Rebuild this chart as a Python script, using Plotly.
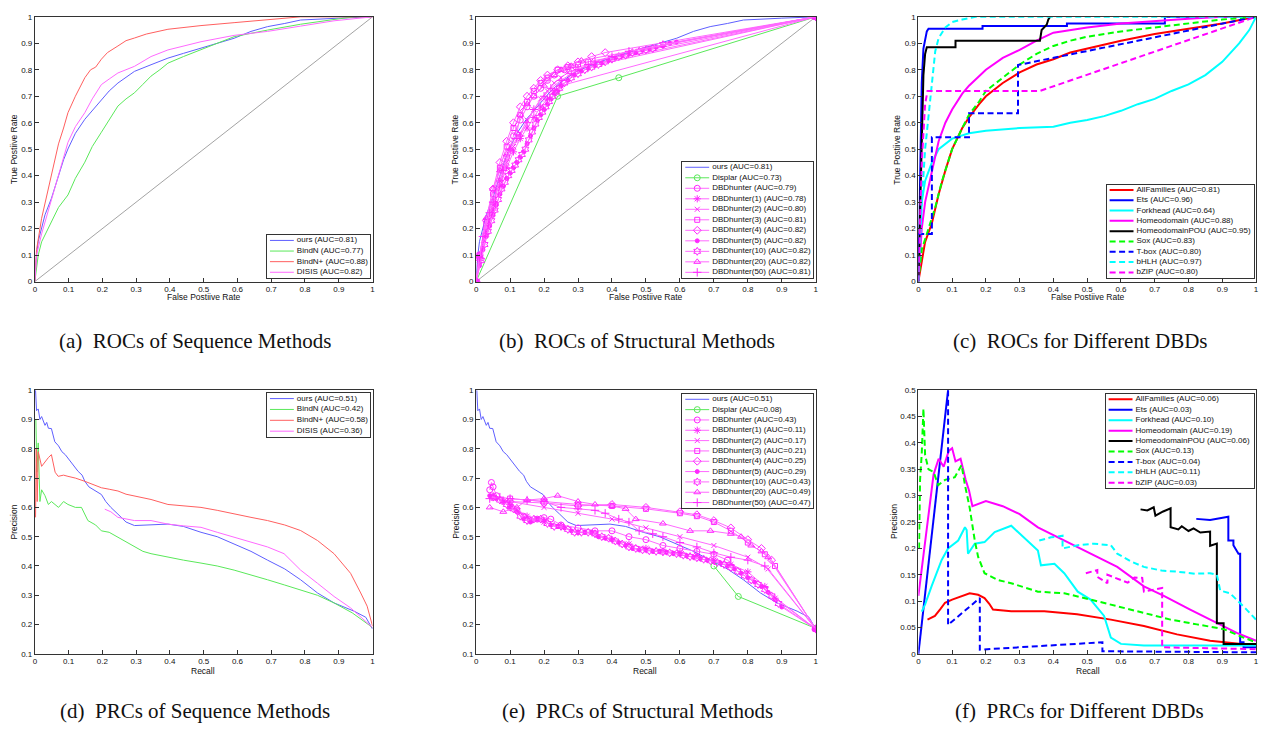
import plotly.graph_objects as go

W, H = 1266, 731

# ====================== DATA ======================
DIAG = [(0, 0), (1, 1)]

# (a) ROC - sequence methods
A_OURS = [(0,0),(0.005,0.1),(0.01,0.152),(0.02,0.2),(0.03,0.252),(0.049,0.314),(0.06,0.36),(0.069,0.40),(0.085,0.46),(0.098,0.501),(0.12,0.56),(0.148,0.613),(0.17,0.645),(0.197,0.688),(0.22,0.72),(0.246,0.75),(0.27,0.77),(0.295,0.794),(0.344,0.819),(0.394,0.844),(0.44,0.862),(0.492,0.882),(0.54,0.9),(0.59,0.919),(0.64,0.945),(0.689,0.963),(0.74,0.975),(0.787,0.988),(0.9,0.995),(1,1)]
A_BINDN = [(0,0),(0.01,0.1),(0.02,0.15),(0.049,0.227),(0.07,0.28),(0.098,0.327),(0.12,0.39),(0.148,0.451),(0.17,0.51),(0.197,0.564),(0.22,0.61),(0.246,0.663),(0.27,0.69),(0.295,0.713),(0.32,0.745),(0.344,0.776),(0.37,0.8),(0.394,0.825),(0.44,0.85),(0.492,0.875),(0.54,0.9),(0.59,0.925),(0.689,0.95),(0.787,0.972),(0.886,0.99),(0.945,1.0),(1,1)]
A_BINDNP = [(0,0),(0.005,0.12),(0.02,0.239),(0.035,0.32),(0.049,0.40),(0.07,0.52),(0.085,0.58),(0.098,0.638),(0.12,0.7),(0.148,0.77),(0.165,0.8),(0.18,0.81),(0.197,0.84),(0.215,0.865),(0.246,0.89),(0.27,0.91),(0.295,0.92),(0.33,0.935),(0.394,0.953),(0.44,0.96),(0.492,0.967),(0.59,0.978),(0.689,0.99),(0.787,1.0),(0.935,1.0),(1,1)]
A_DISIS = [(0,0),(0.005,0.1),(0.02,0.18),(0.049,0.31),(0.07,0.4),(0.098,0.526),(0.12,0.585),(0.148,0.638),(0.17,0.69),(0.197,0.744),(0.22,0.765),(0.246,0.788),(0.295,0.813),(0.344,0.85),(0.394,0.875),(0.44,0.89),(0.492,0.906),(0.59,0.93),(0.689,0.945),(0.787,0.965),(0.886,0.985),(1,1)]

# (b) ROC - structural methods
B_DISPLAR = [(0,0),(0.24,0.70),(0.42,0.77),(1,1)]
B_DBD = [(0,0),(0.01,0.09),(0.03,0.2),(0.05,0.3),(0.07,0.4),(0.09,0.47),(0.11,0.55),(0.13,0.61),(0.15,0.66),(0.17,0.7),(0.19,0.73),(0.21,0.76),(0.23,0.78),(0.26,0.8),(1,1)]
B_DBD1 = [(0,0),(0.01,0.08),(0.03,0.18),(0.05,0.27),(0.07,0.36),(0.09,0.43),(0.11,0.49),(0.13,0.54),(0.15,0.58),(0.17,0.62),(0.19,0.66),(0.21,0.69),(0.23,0.72),(0.25,0.74),(1,1)]
B_DBD2 = [(0,0),(0.01,0.08),(0.03,0.19),(0.05,0.29),(0.07,0.38),(0.09,0.45),(0.11,0.51),(0.13,0.56),(0.15,0.61),(0.17,0.65),(0.19,0.69),(0.21,0.72),(0.23,0.75),(0.25,0.77),(0.27,0.79),(0.29,0.80),(1,1)]
B_DBD3 = [(0,0),(0.01,0.1),(0.03,0.22),(0.05,0.33),(0.07,0.43),(0.09,0.51),(0.11,0.58),(0.13,0.63),(0.15,0.68),(0.17,0.72),(0.19,0.75),(0.21,0.77),(0.24,0.8),(0.27,0.81),(0.3,0.82),(0.33,0.83),(1,1)]
B_DBD4 = [(0,0),(0.01,0.1),(0.03,0.23),(0.05,0.35),(0.07,0.45),(0.09,0.53),(0.11,0.6),(0.13,0.66),(0.15,0.7),(0.17,0.73),(0.19,0.76),(0.21,0.78),(0.24,0.8),(0.27,0.815),(0.3,0.83),(0.34,0.85),(0.38,0.865),(1,1)]
B_DBD5 = [(0,0),(0.01,0.06),(0.02,0.12),(0.03,0.17),(0.04,0.21),(0.05,0.25),(0.06,0.29),(0.07,0.33),(0.08,0.36),(0.09,0.39),(0.1,0.41),(0.11,0.43),(0.12,0.45),(0.13,0.47),(0.14,0.49),(0.15,0.52),(0.16,0.55),(0.17,0.58),(0.18,0.61),(0.19,0.63),(0.2,0.65),(0.21,0.67),(0.22,0.69),(0.23,0.71),(0.24,0.72),(0.25,0.74),(0.27,0.76),(0.29,0.78),(0.31,0.795),(0.33,0.805),(0.35,0.815),(0.37,0.825),(0.39,0.835),(0.41,0.845),(0.43,0.855),(0.45,0.86),(0.47,0.865),(0.49,0.875),(0.51,0.88),(0.53,0.885),(0.55,0.89),(0.57,0.9),(0.59,0.905),(1,1)]
B_DBD10 = [(0,0),(0.015,0.08),(0.025,0.14),(0.035,0.19),(0.045,0.23),(0.055,0.27),(0.065,0.31),(0.075,0.35),(0.085,0.375),(0.095,0.4),(0.105,0.42),(0.115,0.44),(0.125,0.46),(0.135,0.48),(0.145,0.5),(0.155,0.535),(0.165,0.565),(0.175,0.595),(0.185,0.62),(0.195,0.64),(0.205,0.66),(0.215,0.68),(0.225,0.7),(0.235,0.715),(0.245,0.73),(0.26,0.75),(0.28,0.77),(0.3,0.785),(0.32,0.8),(0.34,0.81),(0.36,0.82),(0.38,0.83),(0.4,0.84),(0.42,0.85),(0.44,0.855),(0.46,0.865),(0.48,0.87),(0.5,0.875),(0.52,0.88),(0.55,0.895),(1,1)]
B_DBD20 = [(0,0),(0.01,0.1),(0.03,0.24),(0.05,0.35),(0.07,0.42),(0.09,0.48),(0.1,0.5),(0.12,0.56),(0.13,0.63),(0.15,0.67),(0.17,0.7),(0.2,0.74),(0.23,0.78),(0.25,0.8),(0.28,0.815),(0.31,0.835),(1,1)]
B_DBD50 = [(0,0),(0.01,0.09),(0.02,0.17),(0.04,0.26),(0.05,0.3),(0.07,0.38),(0.08,0.42),(0.1,0.5),(0.12,0.54),(0.13,0.55),(0.15,0.6),(0.17,0.65),(0.2,0.7),(0.22,0.73),(0.25,0.76),(0.28,0.785),(0.3,0.8),(0.33,0.82),(0.35,0.83),(0.4,0.85),(0.45,0.87),(1,1)]

# (c) ROC - different DBDs
C_ALL = [(0,0),(0.01,0.08),(0.02,0.15),(0.04,0.22),(0.06,0.33),(0.08,0.42),(0.1,0.5),(0.13,0.58),(0.15,0.62),(0.18,0.67),(0.2,0.7),(0.25,0.75),(0.3,0.79),(0.35,0.82),(0.4,0.84),(0.45,0.865),(0.5,0.88),(0.6,0.91),(0.7,0.935),(0.8,0.955),(0.9,0.975),(1,1)]
C_ETS = [(0,0),(0.005,0.4),(0.01,0.75),(0.015,0.88),(0.02,0.92),(0.025,0.945),(0.03,0.955),(0.19,0.955),(0.19,0.965),(0.44,0.965),(0.44,0.975),(0.73,0.975),(0.73,1),(1,1)]
C_FORK = [(0,0),(0.01,0.3),(0.02,0.38),(0.04,0.45),(0.06,0.5),(0.1,0.54),(0.15,0.56),(0.2,0.57),(0.3,0.58),(0.4,0.585),(0.45,0.6),(0.5,0.61),(0.55,0.625),(0.6,0.645),(0.65,0.67),(0.7,0.69),(0.75,0.72),(0.8,0.745),(0.85,0.78),(0.9,0.83),(0.95,0.9),(0.98,0.95),(1,1)]
C_HOMEO = [(0,0),(0.01,0.2),(0.02,0.3),(0.04,0.42),(0.06,0.53),(0.08,0.6),(0.1,0.65),(0.13,0.71),(0.15,0.74),(0.2,0.8),(0.25,0.845),(0.3,0.875),(0.35,0.91),(0.4,0.94),(0.5,0.96),(0.6,0.975),(0.7,0.985),(0.8,0.993),(0.9,1),(1,1)]
C_POU = [(0,0),(0.005,0.3),(0.01,0.6),(0.015,0.78),(0.02,0.86),(0.025,0.885),(0.11,0.885),(0.11,0.91),(0.36,0.91),(0.365,0.95),(0.38,0.97),(0.385,0.99),(0.39,1)]
C_SOX = [(0,0),(0.01,0.12),(0.03,0.2),(0.05,0.28),(0.07,0.38),(0.1,0.5),(0.13,0.58),(0.15,0.63),(0.18,0.68),(0.2,0.72),(0.25,0.77),(0.3,0.82),(0.35,0.86),(0.4,0.89),(0.45,0.91),(0.5,0.925),(0.6,0.945),(0.7,0.96),(0.8,0.975),(0.9,0.99),(1,1)]
C_TBOX = [(0,0),(0,0.18),(0.04,0.18),(0.04,0.545),(0.15,0.545),(0.15,0.636),(0.295,0.636),(0.295,0.818),(1,1)]
C_BHLH = [(0,0),(0.01,0.3),(0.02,0.5),(0.03,0.62),(0.04,0.75),(0.05,0.87),(0.06,0.92),(0.08,0.96),(0.1,0.98),(0.13,0.99),(0.17,1),(1,1)]
C_BZIP = [(0,0),(0.01,0.45),(0.02,0.67),(0.027,0.72),(0.36,0.72),(1,1)]

# (d) PRC - sequence methods
D_OURS = [(0.002,1.0),(0.005,0.93),(0.01,0.936),(0.015,0.9),(0.02,0.91),(0.03,0.88),(0.035,0.89),(0.04,0.87),(0.049,0.869),(0.055,0.84),(0.059,0.824),(0.07,0.81),(0.08,0.79),(0.09,0.78),(0.098,0.768),(0.11,0.75),(0.128,0.723),(0.14,0.71),(0.148,0.689),(0.16,0.67),(0.175,0.66),(0.197,0.644),(0.21,0.62),(0.225,0.6),(0.246,0.577),(0.27,0.55),(0.295,0.538),(0.34,0.54),(0.394,0.543),(0.44,0.535),(0.492,0.515),(0.54,0.5),(0.59,0.476),(0.64,0.45),(0.689,0.42),(0.74,0.39),(0.787,0.353),(0.837,0.308),(0.886,0.274),(0.945,0.246),(0.98,0.225),(1.0,0.185)]
D_BINDN = [(0.003,0.9),(0.006,0.72),(0.01,0.82),(0.015,0.62),(0.02,0.66),(0.03,0.64),(0.04,0.61),(0.049,0.62),(0.07,0.6),(0.085,0.62),(0.098,0.61),(0.12,0.6),(0.138,0.6),(0.157,0.555),(0.18,0.54),(0.197,0.52),(0.22,0.515),(0.246,0.498),(0.27,0.48),(0.295,0.465),(0.32,0.45),(0.344,0.442),(0.394,0.43),(0.44,0.42),(0.492,0.41),(0.54,0.4),(0.59,0.386),(0.64,0.37),(0.689,0.353),(0.74,0.335),(0.787,0.319),(0.837,0.3),(0.886,0.274),(0.94,0.24),(1.0,0.19)]
D_BINDNP = [(0.002,0.566),(0.004,0.8),(0.007,0.62),(0.01,0.79),(0.02,0.74),(0.03,0.756),(0.04,0.77),(0.049,0.78),(0.06,0.72),(0.069,0.706),(0.085,0.71),(0.098,0.706),(0.12,0.7),(0.148,0.689),(0.17,0.68),(0.197,0.667),(0.22,0.662),(0.246,0.656),(0.27,0.645),(0.295,0.639),(0.344,0.627),(0.394,0.61),(0.44,0.605),(0.492,0.6),(0.54,0.59),(0.59,0.577),(0.64,0.566),(0.689,0.555),(0.74,0.54),(0.787,0.521),(0.837,0.487),(0.886,0.442),(0.935,0.375),(0.965,0.308),(0.984,0.263),(1.0,0.195)]
D_DISIS = [(0.207,0.594),(0.225,0.585),(0.246,0.566),(0.27,0.56),(0.295,0.555),(0.344,0.555),(0.394,0.543),(0.44,0.537),(0.492,0.532),(0.54,0.515),(0.59,0.498),(0.64,0.482),(0.689,0.465),(0.738,0.442),(0.787,0.386),(0.837,0.341),(0.886,0.296),(0.935,0.257),(1.0,0.19)]

# (e) PRC - structural methods
E_DISPLAR = [(0.70,0.40),(0.772,0.296),(1.0,0.187)]
E_DBD = [(0.04,0.66),(0.045,0.685),(0.05,0.67),(0.06,0.64),(0.08,0.62),(0.1,0.6),(0.12,0.59),(0.14,0.57),(0.16,0.555),(0.18,0.56),(0.2,0.565),(0.22,0.56),(0.25,0.54),(0.3,0.53),(0.35,0.52),(0.4,0.52),(0.45,0.5),(0.5,0.49),(0.55,0.47),(0.6,0.46),(0.65,0.45),(0.7,0.44),(0.74,0.42),(1.0,0.185)]
E_DBD1 = [(0.05,0.64),(0.1,0.61),(0.15,0.57),(0.2,0.55),(0.25,0.535),(0.3,0.515),(0.35,0.51),(0.4,0.49),(0.45,0.475),(0.5,0.46),(0.55,0.45),(0.6,0.445),(0.65,0.435),(0.7,0.42),(0.75,0.405),(0.8,0.38),(0.85,0.33),(0.88,0.29),(1.0,0.185)]
E_DBD2 = [(0.05,0.63),(0.1,0.62),(0.2,0.6),(0.3,0.58),(0.4,0.56),(0.5,0.53),(0.6,0.5),(0.7,0.47),(0.8,0.43),(0.86,0.39),(1.0,0.185)]
E_DBD3 = [(0.1,0.63),(0.2,0.62),(0.3,0.61),(0.4,0.605),(0.5,0.595),(0.6,0.58),(0.65,0.57),(0.7,0.55),(0.75,0.52),(0.8,0.48),(0.85,0.44),(0.88,0.4),(1.0,0.185)]
E_DBD4 = [(0.1,0.62),(0.2,0.615),(0.3,0.605),(0.4,0.61),(0.5,0.6),(0.6,0.585),(0.65,0.575),(0.7,0.555),(0.75,0.53),(0.8,0.49),(0.84,0.46),(0.87,0.42),(1.0,0.185)]
E_DBD5 = [(0.04,0.64),(0.06,0.63),(0.08,0.62),(0.1,0.6),(0.12,0.585),(0.14,0.56),(0.16,0.55),(0.18,0.56),(0.2,0.555),(0.22,0.54),(0.24,0.535),(0.26,0.53),(0.28,0.52),(0.3,0.515),(0.32,0.515),(0.34,0.515),(0.36,0.5),(0.38,0.495),(0.4,0.49),(0.42,0.48),(0.44,0.47),(0.46,0.46),(0.48,0.455),(0.5,0.455),(0.52,0.45),(0.54,0.45),(0.56,0.447),(0.58,0.443),(0.6,0.44),(0.62,0.435),(0.64,0.43),(0.66,0.425),(0.68,0.42),(0.7,0.415),(0.72,0.41),(0.74,0.4),(0.76,0.39),(0.78,0.375),(0.8,0.36),(0.82,0.345),(0.84,0.33),(0.86,0.31),(0.88,0.285),(0.9,0.26),(1.0,0.185)]
E_DBD10 = [(0.05,0.635),(0.07,0.625),(0.09,0.61),(0.11,0.595),(0.13,0.57),(0.15,0.555),(0.17,0.56),(0.19,0.56),(0.21,0.545),(0.23,0.535),(0.25,0.535),(0.27,0.525),(0.29,0.515),(0.31,0.515),(0.33,0.515),(0.35,0.51),(0.37,0.5),(0.39,0.495),(0.41,0.485),(0.43,0.475),(0.45,0.465),(0.47,0.46),(0.49,0.455),(0.51,0.452),(0.53,0.45),(0.55,0.448),(0.57,0.445),(0.59,0.442),(0.61,0.437),(0.63,0.432),(0.65,0.428),(0.67,0.423),(0.69,0.418),(0.71,0.412),(0.73,0.405),(0.75,0.395),(0.77,0.382),(0.79,0.368),(0.81,0.352),(0.83,0.337),(0.85,0.32),(0.87,0.298),(0.89,0.272),(1.0,0.185)]
E_DBD20 = [(0.04,0.6),(0.08,0.585),(0.12,0.6),(0.15,0.625),(0.2,0.63),(0.24,0.64),(0.3,0.62),(0.35,0.61),(0.4,0.605),(0.44,0.595),(0.47,0.56),(0.55,0.545),(0.63,0.52),(0.69,0.52),(0.75,0.51),(0.78,0.5),(0.81,0.47),(0.84,0.45),(0.86,0.43),(1.0,0.185)]
E_DBD50 = [(0.04,0.63),(0.07,0.635),(0.1,0.63),(0.15,0.625),(0.2,0.62),(0.25,0.6),(0.3,0.595),(0.35,0.59),(0.38,0.58),(0.42,0.56),(0.45,0.55),(0.48,0.52),(0.52,0.51),(0.55,0.5),(0.6,0.48),(0.65,0.465),(0.7,0.445),(0.75,0.43),(0.8,0.42),(0.85,0.4),(1.0,0.185)]

# (f) PRC - different DBDs
F_ALL = [(0.027,0.065),(0.035,0.068),(0.049,0.072),(0.065,0.085),(0.079,0.097),(0.1,0.103),(0.128,0.109),(0.152,0.115),(0.177,0.112),(0.196,0.106),(0.21,0.095),(0.221,0.084),(0.275,0.081),(0.373,0.081),(0.47,0.075),(0.57,0.065),(0.668,0.053),(0.766,0.037),(0.864,0.025),(1.0,0.016)]
F_ETS = [(0,0),(0.088,0.5),(None,None),(0.823,0.256),(0.864,0.254),(0.918,0.26),(0.918,0.215),(0.933,0.215),(0.933,0.206),(0.948,0.19),(0.953,0.19),(0.953,0.022),(0.963,0.022),(0.963,0.0125),(1.0,0.0125)]
F_FORK = [(0.01,0.08),(0.02,0.094),(0.039,0.128),(0.069,0.178),(0.088,0.2),(0.118,0.215),(0.138,0.24),(0.143,0.235),(0.147,0.19),(0.167,0.209),(0.196,0.212),(0.226,0.231),(0.275,0.243),(0.295,0.231),(0.324,0.215),(0.354,0.196),(0.363,0.168),(0.403,0.171),(0.432,0.153),(0.472,0.118),(0.51,0.103),(0.55,0.072),(0.57,0.031),(0.6,0.019),(0.668,0.016),(1.0,0.016)]
F_HOMEO = [(0,0.11),(0.015,0.19),(0.03,0.27),(0.045,0.34),(0.06,0.37),(0.075,0.355),(0.09,0.385),(0.1,0.39),(0.11,0.365),(0.125,0.37),(0.14,0.33),(0.15,0.31),(0.16,0.28),(0.2,0.29),(0.25,0.28),(0.3,0.265),(0.354,0.24),(0.432,0.215),(0.51,0.19),(0.589,0.165),(0.668,0.128),(0.727,0.11),(0.805,0.084),(0.864,0.065),(0.943,0.04),(1.0,0.025)]
F_POU = [(0.658,0.274),(0.678,0.272),(0.697,0.278),(0.702,0.262),(0.725,0.27),(0.747,0.276),(0.747,0.24),(0.77,0.236),(0.78,0.242),(0.8,0.233),(0.815,0.238),(0.835,0.23),(0.864,0.232),(0.864,0.205),(0.884,0.209),(0.884,0.058),(0.904,0.058),(0.904,0.019),(1.0,0.019)]
F_SOX = [(0.002,0.2),(0.005,0.33),(0.01,0.38),(0.015,0.465),(0.02,0.377),(0.03,0.35),(0.045,0.345),(0.059,0.32),(0.079,0.33),(0.108,0.335),(0.128,0.358),(0.138,0.32),(0.152,0.277),(0.167,0.215),(0.177,0.184),(0.196,0.153),(0.236,0.14),(0.275,0.134),(0.354,0.118),(0.432,0.115),(0.51,0.103),(0.589,0.09),(0.668,0.078),(0.747,0.065),(0.825,0.056),(0.904,0.047),(0.963,0.031),(1.0,0.022)]
F_TBOX = [(0.088,0.5),(0.088,0.055),(0.182,0.106),(0.182,0.008),(0.545,0.022),(0.545,0.005),(1.0,0.003)]
F_BHLH = [(0.358,0.215),(0.393,0.221),(0.427,0.224),(0.427,0.2),(0.472,0.206),(0.52,0.209),(0.57,0.206),(0.589,0.19),(0.63,0.175),(0.668,0.165),(0.72,0.158),(0.766,0.156),(0.82,0.152),(0.864,0.153),(0.884,0.15),(0.894,0.12),(0.923,0.115),(0.943,0.103),(0.972,0.084),(1.0,0.065)]
F_BZIP = [(0.496,0.153),(0.53,0.159),(0.53,0.146),(0.56,0.134),(0.56,0.15),(0.6,0.14),(0.62,0.135),(0.64,0.145),(0.663,0.144),(0.668,0.118),(0.722,0.125),(0.722,0.0125),(1.0,0.009)]

SEQ_LABELS_ROC = ["ours (AUC=0.81)", "BindN (AUC=0.77)", "BindN+ (AUC=0.88)", "DISIS (AUC=0.82)"]
SEQ_LABELS_PRC = ["ours (AUC=0.51)", "BindN (AUC=0.42)", "BindN+ (AUC=0.58)", "DISIS (AUC=0.36)"]
STR_LABELS_ROC = ["ours (AUC=0.81)", "Displar (AUC=0.73)", "DBDhunter (AUC=0.79)", "DBDhunter(1) (AUC=0.78)",
                  "DBDhunter(2) (AUC=0.80)", "DBDhunter(3) (AUC=0.81)", "DBDhunter(4) (AUC=0.82)",
                  "DBDhunter(5) (AUC=0.82)", "DBDhunter(10) (AUC=0.82)", "DBDhunter(20) (AUC=0.82)",
                  "DBDhunter(50) (AUC=0.81)"]
STR_LABELS_PRC = ["ours (AUC=0.51)", "Displar (AUC=0.08)", "DBDhunter (AUC=0.43)", "DBDhunter(1) (AUC=0.11)",
                  "DBDhunter(2) (AUC=0.17)", "DBDhunter(3) (AUC=0.21)", "DBDhunter(4) (AUC=0.25)",
                  "DBDhunter(5) (AUC=0.29)", "DBDhunter(10) (AUC=0.43)", "DBDhunter(20) (AUC=0.49)",
                  "DBDhunter(50) (AUC=0.47)"]
DBD_LABELS_ROC = ["AllFamilies (AUC=0.81)", "Ets (AUC=0.96)", "Forkhead (AUC=0.64)", "Homeodomain (AUC=0.88)",
                  "HomeodomainPOU (AUC=0.95)", "Sox (AUC=0.83)", "T-box (AUC=0.80)", "bHLH (AUC=0.97)",
                  "bZIP (AUC=0.80)"]
DBD_LABELS_PRC = ["AllFamilies (AUC=0.06)", "Ets (AUC=0.03)", "Forkhead (AUC=0.10)", "Homeodomain (AUC=0.19)",
                  "HomeodomainPOU (AUC=0.06)", "Sox (AUC=0.13)", "T-box (AUC=0.04)", "bHLH (AUC=0.11)",
                  "bZIP (AUC=0.03)"]

CAPTIONS = ["(a)\u00a0\u00a0ROCs of Sequence Methods", "(b)\u00a0\u00a0ROCs of Structural Methods",
            "(c)\u00a0\u00a0ROCs for Different DBDs", "(d)\u00a0\u00a0PRCs of Sequence Methods",
            "(e)\u00a0\u00a0PRCs of Structural Methods", "(f)\u00a0\u00a0PRCs for Different DBDs"]

# ====================== STYLES ======================
TB = "rgb(95,95,255)"
TG = "rgb(90,232,90)"
TR = "rgb(255,95,95)"
TM = "rgb(255,105,255)"
MM = "rgb(255,40,255)"
GRAY = "rgb(140,140,140)"
FONT = "Liberation Sans, Arial, sans-serif"
DASH = "6px,3.5px"

def thin(color, marker=None, msize=5, mcolor=None):
    return dict(color=color, width=1, dash="solid", symbol=marker, msize=msize, mcolor=mcolor or color)

def thick(color, dash="solid"):
    return dict(color=color, width=2, dash=dash, symbol=None, msize=0, mcolor=color)

SEQ_STY = [thin(TB), thin(TG), thin(TR), thin(TM)]
STR_STY = [thin(TB), thin(TG, "circle-open", 6),
           thin(TM, "circle-open", 6, MM), thin(TM, "asterisk-open", 6, MM), thin(TM, "x-thin-open", 5, MM),
           thin(TM, "square-open", 5, MM), thin(TM, "diamond-open", 6, MM), thin(TM, "circle", 4, MM),
           thin(TM, "hexagram-open", 6, MM), thin(TM, "triangle-up-open", 6, MM), thin(TM, "cross-thin-open", 6, MM)]
DBD_STY = [thick("#ff0000"), thick("#0000ff"), thick("#00ffff"), thick("#ff00ff"), thick("#000000"),
           thick("#00ff00", DASH), thick("#0000ff", DASH), thick("#00ffff", DASH), thick("#ff00ff", DASH)]

PANELS = [
    dict(box=(33, 372, 13, 281), yr=[0, 1], dy=0.1, series=[A_OURS, A_BINDN, A_BINDNP, A_DISIS],
         labels=SEQ_LABELS_ROC, sty=SEQ_STY, diag=True, leg=(266, 234, 369, 277),
         xl=("False Postiive Rate", 202, 297), yl=("True Postiive Rate", 12, 147), cap=(194, 341)),
    dict(box=(476, 817, 13, 281), yr=[0, 1], dy=0.1,
         series=[A_OURS, B_DISPLAR, B_DBD, B_DBD1, B_DBD2, B_DBD3, B_DBD4, B_DBD5, B_DBD10, B_DBD20, B_DBD50],
         labels=STR_LABELS_ROC, sty=STR_STY, diag=True, leg=(683, 160, 814, 277),
         xl=("False Postiive Rate", 646, 297), yl=("True Postiive Rate", 455, 147), cap=(638, 341)),
    dict(box=(920, 1259, 13, 281), yr=[0, 1], dy=0.1,
         series=[C_ALL, C_ETS, C_FORK, C_HOMEO, C_POU, C_SOX, C_TBOX, C_BHLH, C_BZIP],
         labels=DBD_LABELS_ROC, sty=DBD_STY, diag=False, leg=(1109, 183, 1257, 277),
         xl=("False Postiive Rate", 1090, 297), yl=("True Postiive Rate", 899, 147), cap=(1082, 341)),
    dict(box=(33, 372, 391, 658), yr=[0.1, 1], dy=0.1, series=[D_OURS, D_BINDN, D_BINDNP, D_DISIS],
         labels=SEQ_LABELS_PRC, sty=SEQ_STY, diag=False, leg=(266, 394, 369, 438),
         xl=("Recall", 202, 675), yl=("Precision", 12, 524), cap=(194, 716)),
    dict(box=(476, 817, 391, 658), yr=[0.1, 1], dy=0.1,
         series=[D_OURS, E_DISPLAR, E_DBD, E_DBD1, E_DBD2, E_DBD3, E_DBD4, E_DBD5, E_DBD10, E_DBD20, E_DBD50],
         labels=STR_LABELS_PRC, sty=STR_STY, diag=False, leg=(683, 395, 814, 510),
         xl=("Recall", 646, 675), yl=("Precision", 455, 524), cap=(638, 716)),
    dict(box=(920, 1259, 391, 658), yr=[0, 0.5], dy=0.05,
         series=[F_ALL, F_ETS, F_FORK, F_HOMEO, F_POU, F_SOX, F_TBOX, F_BHLH, F_BZIP],
         labels=DBD_LABELS_PRC, sty=DBD_STY, diag=False, leg=(1108, 395, 1257, 490),
         xl=("Recall", 1090, 675), yl=("Precision", 895, 524), cap=(1082, 716)),
]

# ====================== BUILD ======================
def xs(pts):
    return [p[0] for p in pts]

def ys(pts):
    return [p[1] for p in pts]

def px_x(v):
    return v / W

def px_y(v):
    return 1 - v / H

fig = go.Figure()
layout = dict(width=W, height=H, margin=dict(l=0, r=0, t=0, b=0), paper_bgcolor="white",
              plot_bgcolor="white", showlegend=False, annotations=[])
AX = "#333333"

for i, P in enumerate(PANELS):
    k = i + 1
    kn = "" if k == 1 else str(k)
    x0, x1, yt, yb = P["box"]
    layout["xaxis" + kn] = dict(domain=[px_x(x0), px_x(x1)], range=[0, 1], dtick=0.1, tick0=0,
                                 ticks="inside", ticklen=4, tickcolor=AX, showline=True, linecolor=AX,
                                 linewidth=1, mirror=True, showgrid=False, zeroline=False,
                                 ticklabeloverflow="allow",
                                 tickfont=dict(family=FONT, size=8, color="#111"), anchor="y" + kn)
    layout["yaxis" + kn] = dict(domain=[px_y(yb), px_y(yt)], range=P["yr"], dtick=P["dy"], tick0=0,
                                 ticks="inside", ticklen=4, tickcolor=AX, showline=True, linecolor=AX,
                                 linewidth=1, mirror=True, showgrid=False, zeroline=False,
                                 ticklabeloverflow="allow",
                                 tickfont=dict(family=FONT, size=8, color="#111"), anchor="x" + kn)
    if P["diag"]:
        fig.add_trace(go.Scatter(x=xs(DIAG), y=ys(DIAG), mode="lines", line=dict(color=GRAY, width=0.8),
                                 xaxis="x" + kn, yaxis="y" + kn, hoverinfo="skip"))
    for pts, st in zip(P["series"], P["sty"]):
        mode = "lines+markers" if st["symbol"] else "lines"
        tr = dict(x=xs(pts), y=ys(pts), mode=mode,
                  line=dict(color=st["color"], width=st["width"], dash=st["dash"]),
                  xaxis="x" + kn, yaxis="y" + kn, connectgaps=False, cliponaxis=True)
        if st["symbol"]:
            tr["marker"] = dict(symbol=st["symbol"], size=st["msize"], color=st["mcolor"],
                                line=dict(color=st["mcolor"], width=1))
        fig.add_trace(go.Scatter(**tr))

    # legend box as its own small axis
    j = k + 6
    jn = str(j)
    lx0, ly0, lx1, ly1 = P["leg"]
    bw = lx1 - lx0
    n = len(P["labels"])
    layout["xaxis" + jn] = dict(domain=[px_x(lx0), px_x(lx1)], range=[0, bw], showline=True, mirror=True,
                                 linecolor=AX, linewidth=1, ticks="", showticklabels=False, showgrid=False,
                                 zeroline=False, anchor="y" + jn, fixedrange=True)
    layout["yaxis" + jn] = dict(domain=[px_y(ly1), px_y(ly0)], range=[-0.5, n - 0.5], showline=True,
                                 mirror=True, linecolor=AX, linewidth=1, ticks="", showticklabels=False,
                                 showgrid=False, zeroline=False, anchor="x" + jn, fixedrange=True)
    fig.add_trace(go.Scatter(x=[0, bw, bw, 0, 0], y=[-0.5, -0.5, n - 0.5, n - 0.5, -0.5], mode="lines",
                             fill="toself", fillcolor="white", line=dict(width=0, color="white"),
                             xaxis="x" + jn, yaxis="y" + jn, hoverinfo="skip"))
    for r, (lab, st) in enumerate(zip(P["labels"], P["sty"])):
        yy = n - 1 - r
        fig.add_trace(go.Scatter(x=[3, 27], y=[yy, yy], mode="lines",
                                 line=dict(color=st["color"], width=st["width"], dash=st["dash"]),
                                 xaxis="x" + jn, yaxis="y" + jn, hoverinfo="skip"))
        if st["symbol"]:
            fig.add_trace(go.Scatter(x=[15], y=[yy], mode="markers",
                                     marker=dict(symbol=st["symbol"], size=st["msize"], color=st["mcolor"],
                                                 line=dict(color=st["mcolor"], width=1)),
                                     xaxis="x" + jn, yaxis="y" + jn, hoverinfo="skip"))
        fig.add_trace(go.Scatter(x=[30], y=[yy], mode="text", text=[lab], textposition="middle right",
                                 textfont=dict(family=FONT, size=8, color="#111"),
                                 xaxis="x" + jn, yaxis="y" + jn, hoverinfo="skip", cliponaxis=False))

    t, cx, cy = P["xl"]
    layout["annotations"].append(dict(text=t, x=px_x(cx), y=px_y(cy), xref="paper", yref="paper",
                                      showarrow=False, xanchor="center", yanchor="middle",
                                      font=dict(family=FONT, size=8.5, color="#111")))
    t, cx, cy = P["yl"]
    layout["annotations"].append(dict(text=t, x=px_x(cx), y=px_y(cy), xref="paper", yref="paper",
                                      showarrow=False, xanchor="center", yanchor="middle", textangle=-90,
                                      font=dict(family=FONT, size=8.5, color="#111")))
    cx, cy = P["cap"]
    layout["annotations"].append(dict(text=CAPTIONS[i], x=px_x(cx), y=px_y(cy), xref="paper", yref="paper",
                                      showarrow=False, xanchor="center", yanchor="middle",
                                      font=dict(family="Liberation Serif, Times New Roman, serif", size=21,
                                                color="#111")))

fig.update_layout(**layout)
fig.write_html("out.html", config={"displayModeBar": False},
               post_script="document.body.style.margin='0px';document.body.style.overflow='hidden';")
